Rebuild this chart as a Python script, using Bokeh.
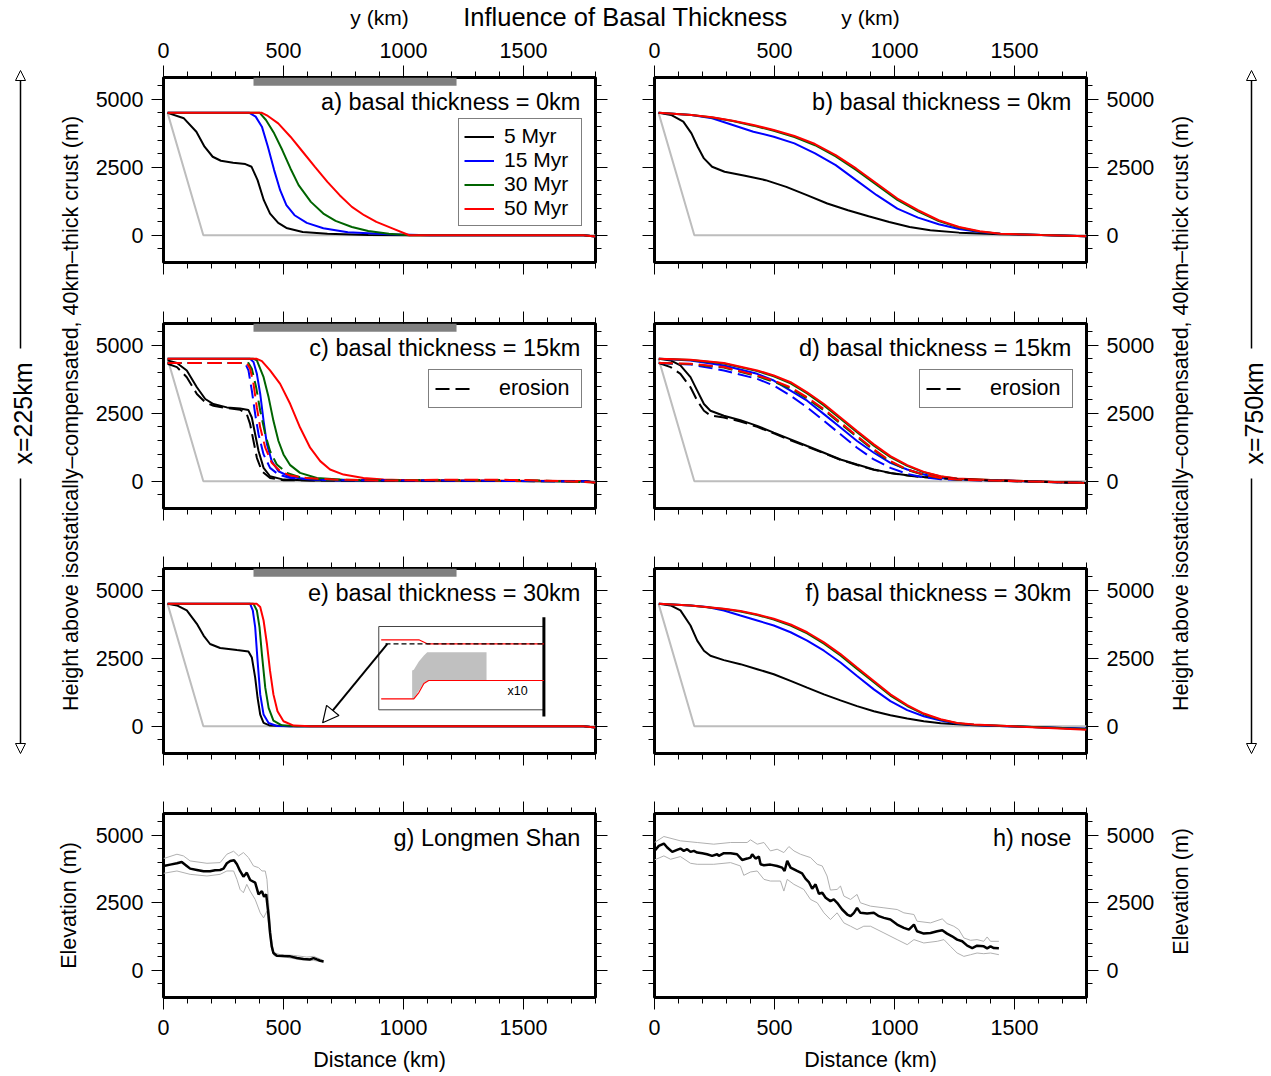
import math
from bokeh.plotting import figure
from bokeh.models import (Range1d, LinearAxis, FixedTicker, Legend, LegendItem,
                          Label, Arrow, NormalHead, Grid)
from bokeh.layouts import row, column
from bokeh.embed import file_html
from bokeh.resources import INLINE

FONT = "Liberation Sans"

# ---------------- axes / labels ----------------
x_ticks = [0, 500, 1000, 1500]
x_minor = list(range(0, 1801, 100))
y_ticks = [0, 2500, 5000]
y_minor = list(range(-500, 5501, 500))

ages = ["5 Myr", "15 Myr", "30 Myr", "50 Myr"]
colors = ["black", "#0000ff", "#006400", "#ff0000"]
panel_titles = ["a) basal thickness = 0km", "b) basal thickness = 0km",
                "c) basal thickness = 15km", "d) basal thickness = 15km",
                "e) basal thickness = 30km", "f) basal thickness = 30km",
                "g) Longmen Shan", "h) nose"]

# initial (gray) profile
init_x = [17, 166, 1800]
init_y = [4500, 0, 0]
# gray bar at top of panels a, c, e (km)
bar_x = [375, 1221]

# ---------------- panel a (basal 0 km, x=225km) ----------------
a5_x = [17, 85, 137, 171, 205, 239, 290, 341, 367, 392, 418, 444, 478, 512, 580, 683, 853, 1024, 1750, 1800]
a5_y = [4500, 4300, 3808, 3256, 2887, 2740, 2666, 2617, 2518, 2027, 1290, 799, 455, 270, 123, 61, 12, 0, 0, -40]
a15_x = [17, 358, 384, 410, 435, 461, 486, 512, 546, 597, 666, 768, 939, 1109, 1750, 1800]
a15_y = [4500, 4500, 4361, 3993, 3256, 2396, 1658, 1106, 737, 455, 258, 111, 37, 0, 0, -40]
a30_x = [17, 401, 427, 461, 495, 529, 563, 614, 666, 717, 785, 853, 939, 1024, 1750, 1800]
a30_y = [4500, 4500, 4238, 3747, 3133, 2457, 1843, 1229, 799, 528, 307, 160, 61, 0, 0, -40]
a50_x = [17, 410, 435, 478, 529, 580, 631, 683, 734, 785, 836, 887, 956, 1024, 1750, 1800]
a50_y = [4500, 4500, 4386, 4115, 3624, 3071, 2518, 1966, 1474, 1044, 737, 491, 246, 0, 0, -40]

# ---------------- panel b (basal 0 km, x=750km) ----------------
b5_x = [17, 69, 120, 154, 180, 206, 240, 292, 377, 463, 549, 635, 720, 806, 892, 978, 1063, 1149, 1269, 1441, 1612, 1800]
b5_y = [4500, 4423, 4177, 3747, 3256, 2826, 2518, 2334, 2187, 2027, 1781, 1474, 1167, 921, 700, 491, 307, 184, 98, 37, 12, -37]
b15_x = [17, 154, 240, 326, 412, 497, 583, 669, 755, 840, 926, 1012, 1098, 1184, 1269, 1355, 1441, 1612, 1800]
b15_y = [4500, 4423, 4300, 4054, 3808, 3624, 3378, 3010, 2580, 2027, 1474, 983, 651, 405, 233, 123, 61, 12, -37]
b30_x = [17, 154, 240, 326, 412, 497, 583, 669, 755, 840, 926, 1012, 1098, 1184, 1269, 1355, 1441, 1612, 1800]
b30_y = [4500, 4423, 4330, 4200, 4030, 3840, 3610, 3310, 2900, 2400, 1850, 1300, 880, 520, 285, 135, 55, 12, -37]
b50_x = [17, 154, 240, 326, 412, 497, 583, 669, 755, 840, 926, 1012, 1098, 1184, 1269, 1355, 1441, 1612, 1800]
b50_y = [4500, 4423, 4337, 4214, 4054, 3870, 3649, 3354, 2948, 2457, 1904, 1351, 921, 553, 307, 147, 61, 12, -37]

# ---------------- panel c (basal 15 km, x=225km) ----------------
c5_x = [17, 56, 97, 139, 174, 208, 264, 319, 354, 368, 382, 396, 417, 444, 500, 611, 1750, 1800]
c5_y = [4444, 4346, 4074, 3457, 3025, 2840, 2716, 2679, 2617, 2346, 1728, 1111, 494, 185, 62, 25, 0, -40]
c15_x = [17, 361, 375, 389, 403, 417, 431, 451, 479, 528, 611, 722, 1750, 1800]
c15_y = [4500, 4500, 4383, 3951, 3210, 2222, 1358, 741, 370, 160, 62, 25, 0, -40]
c30_x = [17, 375, 389, 417, 438, 458, 479, 500, 528, 569, 639, 778, 1750, 1800]
c30_y = [4500, 4500, 4444, 3827, 3086, 2222, 1481, 988, 593, 309, 123, 37, 0, -40]
c50_x = [17, 389, 410, 444, 486, 528, 569, 611, 653, 694, 750, 833, 917, 1056, 1333, 1750, 1800]
c50_y = [4500, 4500, 4420, 4074, 3580, 2840, 1975, 1235, 741, 432, 247, 123, 62, 25, 25, 10, -40]
# with erosion (dashed)
c5e_x = [17, 56, 97, 139, 174, 208, 264, 319, 347, 361, 375, 389, 410, 444, 500, 1750, 1800]
c5e_y = [4321, 4198, 3827, 3210, 2901, 2778, 2691, 2630, 2469, 2099, 1481, 864, 370, 123, 37, 0, -40]
c15e_x = [17, 340, 354, 368, 382, 396, 417, 444, 479, 528, 639, 1750, 1800]
c15e_y = [4346, 4346, 4074, 3333, 2469, 1728, 988, 494, 247, 123, 49, 0, -40]
c30e_x = [17, 354, 368, 386, 403, 424, 444, 472, 514, 569, 667, 900, 1200, 1500, 1800]
c30e_y = [4346, 4346, 4136, 3457, 2593, 1728, 1111, 617, 309, 148, 62, 40, 50, 45, -40]
c50e_x = [17, 347, 361, 375, 389, 403, 424, 451, 486, 528, 597, 708, 917, 1200, 1500, 1800]
c50e_y = [4346, 4346, 4136, 3580, 2716, 1975, 1235, 679, 370, 210, 123, 62, 25, 60, 50, -40]

# ---------------- panel d (basal 15 km, x=750km) ----------------
d5_x = [18, 67, 108, 150, 178, 206, 233, 289, 358, 428, 497, 567, 636, 706, 775, 844, 914, 983, 1053, 1122, 1261, 1400, 1800]
d5_y = [4500, 4444, 4259, 3827, 3333, 2840, 2593, 2407, 2247, 2037, 1790, 1543, 1296, 1049, 802, 617, 432, 309, 222, 160, 86, 37, -62]
d5e_x = [18, 67, 108, 150, 178, 206, 233, 289, 358, 428, 497, 567, 636, 706, 775, 844, 914, 983, 1053, 1122, 1261, 1400, 1800]
d5e_y = [4346, 4198, 3951, 3457, 2963, 2593, 2420, 2346, 2200, 2000, 1760, 1510, 1270, 1030, 790, 600, 420, 300, 215, 150, 80, 30, -62]
d15_x = [18, 150, 289, 428, 497, 567, 636, 706, 775, 844, 914, 983, 1053, 1122, 1192, 1331, 1469, 1800]
d15_y = [4500, 4444, 4259, 3951, 3704, 3333, 2963, 2469, 1975, 1481, 1049, 679, 432, 247, 123, 49, 25, -62]
d15e_x = [18, 150, 289, 428, 497, 567, 636, 706, 775, 844, 914, 983, 1053, 1122, 1192, 1331, 1469, 1800]
d15e_y = [4346, 4296, 4074, 3765, 3519, 3148, 2716, 2222, 1728, 1235, 802, 494, 272, 148, 74, 37, 15, -62]
d30_x = [18, 150, 289, 428, 497, 567, 636, 706, 775, 844, 914, 983, 1053, 1122, 1192, 1261, 1400, 1800]
d30_y = [4500, 4460, 4330, 4050, 3860, 3600, 3230, 2790, 2300, 1800, 1310, 890, 565, 330, 175, 95, 45, -62]
d30e_x = [18, 150, 289, 428, 497, 567, 636, 706, 775, 844, 914, 983, 1053, 1122, 1192, 1261, 1400, 1800]
d30e_y = [4346, 4310, 4180, 3860, 3660, 3410, 3040, 2610, 2120, 1630, 1140, 715, 415, 235, 115, 58, 28, -62]
d50_x = [18, 150, 289, 428, 497, 567, 636, 706, 775, 844, 914, 983, 1053, 1122, 1192, 1261, 1400, 1800]
d50_y = [4500, 4469, 4346, 4074, 3889, 3642, 3272, 2840, 2346, 1852, 1358, 926, 593, 346, 185, 99, 49, -62]
d50e_x = [18, 150, 289, 428, 497, 567, 636, 706, 775, 844, 914, 983, 1053, 1122, 1192, 1261, 1400, 1800]
d50e_y = [4346, 4321, 4198, 3889, 3700, 3457, 3086, 2654, 2160, 1667, 1173, 741, 432, 247, 123, 62, 30, -62]

# ---------------- panel e (basal 30 km, x=225km) ----------------
e5_x = [17, 56, 97, 139, 167, 194, 236, 306, 354, 368, 382, 392, 403, 417, 444, 528, 1750, 1800]
e5_y = [4500, 4444, 4259, 3765, 3333, 3025, 2877, 2802, 2753, 2531, 1790, 1049, 432, 123, 25, 0, 0, -40]
e15_x = [17, 361, 372, 382, 392, 403, 417, 438, 472, 528, 1750, 1800]
e15_y = [4500, 4500, 4259, 3642, 2407, 1173, 432, 123, 12, 0, 0, -40]
e30_x = [17, 375, 389, 400, 410, 424, 438, 458, 493, 556, 1750, 1800]
e30_y = [4500, 4500, 4259, 3642, 2654, 1420, 679, 210, 37, 0, 0, -40]
e50_x = [17, 389, 403, 417, 431, 444, 458, 475, 500, 542, 611, 1750, 1800]
e50_y = [4500, 4500, 4383, 3889, 3025, 2037, 1173, 556, 185, 25, 0, 0, -40]
# inset schematic in panel e (km, m)
inset_box_x = [1585, 897, 897, 1585]
inset_box_y = [3668, 3668, 606, 606]
inset_edge_y = [4010, 360]
inset_top_x = [907, 1064, 1099, 1585]
inset_top_y = [3179, 3179, 3032, 3032]
inset_ref_x = [925, 1585]
inset_ref_y = [3032, 3032]
inset_fill_x = [1036, 1036, 1043, 1064, 1085, 1099, 1346, 1346, 1105, 1085, 1064, 1043]
inset_fill_y = [1010, 2050, 2076, 2381, 2602, 2723, 2723, 1683, 1683, 1591, 1316, 1010]
inset_low_x = [907, 1043, 1064, 1085, 1105, 1585]
inset_low_y = [1010, 1010, 1242, 1573, 1683, 1683]
inset_arrow = [933, 3032, 663, 129]

# ---------------- panel f (basal 30 km, x=750km) ----------------
f5_x = [18, 67, 108, 150, 178, 206, 233, 289, 358, 428, 497, 567, 636, 706, 775, 844, 914, 983, 1053, 1122, 1192, 1331, 1469, 1800]
f5_y = [4500, 4444, 4259, 3704, 3148, 2778, 2593, 2432, 2284, 2099, 1914, 1667, 1420, 1173, 951, 741, 556, 407, 284, 185, 111, 37, 0, -86]
f15_x = [18, 150, 219, 289, 358, 428, 497, 567, 636, 706, 775, 844, 914, 983, 1053, 1122, 1192, 1261, 1331, 1469, 1800]
f15_y = [4500, 4444, 4383, 4259, 4074, 3889, 3704, 3457, 3148, 2778, 2346, 1852, 1358, 926, 593, 370, 210, 99, 49, 0, -86]
f30_x = [18, 150, 289, 358, 428, 497, 567, 636, 706, 775, 844, 914, 983, 1053, 1122, 1192, 1261, 1331, 1469, 1800]
f30_y = [4500, 4444, 4310, 4220, 4090, 3925, 3705, 3415, 3040, 2605, 2110, 1620, 1130, 745, 445, 245, 115, 58, 12, -110]
f50_x = [18, 150, 289, 358, 428, 497, 567, 636, 706, 775, 844, 914, 983, 1053, 1122, 1192, 1261, 1331, 1469, 1800]
f50_y = [4500, 4444, 4321, 4235, 4111, 3951, 3741, 3457, 3086, 2654, 2160, 1667, 1173, 778, 469, 259, 123, 62, 12, -123]

# ---------------- panel g: Longmen Shan ----------------
lms_x = [0, 28, 56, 76, 97, 111, 139, 167, 194, 215, 236, 250, 264, 278, 294, 306, 319, 333, 347, 361, 382, 396, 410, 419, 428, 438, 444, 451, 458, 472, 500, 528, 556, 583, 611, 625, 639, 653, 667]
lms_y = [3861, 3911, 3960, 4010, 3861, 3762, 3713, 3663, 3663, 3700, 3713, 3762, 3960, 4047, 4072, 3923, 3676, 3465, 3614, 3342, 3243, 2809, 2933, 2723, 2809, 2005, 1386, 891, 644, 545, 532, 520, 458, 421, 408, 458, 408, 359, 334]
lms_hi_x = [0, 56, 83, 111, 181, 236, 264, 292, 313, 333, 354, 375, 396, 410, 424, 431, 438, 447, 458, 486, 542, 597, 625, 653, 667]
lms_hi_y = [4134, 4295, 4233, 4047, 3960, 3985, 4295, 4406, 4233, 4356, 4171, 3861, 3800, 3676, 3676, 3366, 2500, 1386, 668, 582, 557, 495, 520, 421, 359]
lms_lo_x = [0, 56, 111, 181, 236, 264, 292, 306, 319, 333, 347, 361, 382, 403, 417, 431, 442, 451, 461, 514, 569, 625, 667]
lms_lo_y = [3589, 3676, 3552, 3490, 3552, 3676, 3676, 3366, 2995, 2871, 3181, 2933, 2624, 2129, 1943, 2191, 1386, 767, 545, 483, 396, 371, 309]

# ---------------- panel h: nose ----------------
nose_x = [0, 18, 39, 53, 74, 94, 108, 122, 136, 150, 164, 178, 199, 219, 240, 261, 268, 289, 317, 344, 365, 386, 400, 407, 421, 435, 442, 456, 483, 511, 532, 542, 553, 567, 594, 615, 629, 643, 657, 671, 685, 699, 713, 733, 747, 761, 782, 803, 817, 831, 844, 858, 886, 914, 935, 956, 983, 1011, 1039, 1060, 1081, 1094, 1122, 1150, 1178, 1199, 1219, 1240, 1261, 1282, 1303, 1324, 1344, 1372, 1386, 1400, 1414, 1435]
nose_y = [4418, 4604, 4691, 4542, 4381, 4455, 4505, 4418, 4480, 4381, 4418, 4356, 4332, 4295, 4233, 4295, 4233, 4332, 4332, 4295, 4084, 4134, 4171, 4295, 4134, 4208, 3923, 3886, 3911, 3861, 3800, 3676, 4047, 3800, 3676, 3589, 3391, 3267, 3020, 3181, 2834, 2871, 2686, 2562, 2624, 2500, 2252, 2067, 2005, 2129, 2314, 2129, 2104, 2129, 2005, 1943, 1881, 1696, 1572, 1510, 1696, 1448, 1361, 1386, 1448, 1485, 1361, 1262, 1139, 1077, 916, 829, 916, 891, 817, 891, 829, 817]
nose_hi_x = [0, 39, 108, 178, 247, 317, 386, 400, 428, 456, 483, 511, 539, 560, 581, 608, 650, 678, 699, 719, 733, 761, 775, 789, 817, 844, 858, 900, 956, 1011, 1039, 1081, 1094, 1150, 1199, 1219, 1247, 1268, 1289, 1317, 1344, 1372, 1386, 1400, 1435]
nose_hi_y = [4728, 4950, 4790, 4728, 4666, 4728, 4728, 4827, 4666, 4728, 4418, 4480, 4356, 4579, 4418, 4295, 4171, 3923, 3861, 3490, 2970, 2995, 3119, 2748, 2624, 2809, 2500, 2376, 2314, 2252, 2129, 2067, 1819, 1757, 1906, 1733, 1634, 1510, 1200, 1114, 1139, 1077, 1238, 1077, 1077]
nose_lo_x = [0, 39, 67, 108, 150, 178, 247, 317, 358, 372, 400, 428, 456, 483, 525, 539, 553, 581, 622, 650, 678, 706, 733, 761, 789, 817, 844, 872, 900, 956, 1011, 1053, 1081, 1122, 1178, 1206, 1233, 1261, 1289, 1317, 1344, 1372, 1400, 1435]
nose_lo_y = [4084, 4233, 4109, 4208, 3960, 3923, 3923, 3985, 3861, 3515, 3639, 3676, 3366, 3304, 3304, 2933, 3366, 3181, 2995, 2624, 2500, 2129, 1881, 2129, 1757, 1634, 1510, 1634, 1634, 1386, 1139, 953, 1139, 1015, 1077, 1139, 891, 644, 520, 582, 644, 619, 644, 582]


# ---------------- helpers ----------------
def no_grid(p):
    p.center = [r for r in p.center if not isinstance(r, Grid)]


def style_axis(ax, show, standoff=6):
    ax.axis_line_color = None
    ax.major_tick_in = 0
    ax.major_tick_out = 12
    ax.minor_tick_in = 0
    ax.minor_tick_out = 6
    ax.major_tick_line_color = "black"
    ax.minor_tick_line_color = "black"
    ax.major_tick_line_width = 1
    ax.minor_tick_line_width = 1
    ax.major_label_text_font = FONT
    if show:
        ax.major_label_text_font_size = "21.5px"
        ax.major_label_text_color = "black"
        ax.major_label_standoff = standoff
    else:
        ax.major_label_text_font_size = "0px"
        ax.major_label_text_color = None
        ax.major_label_standoff = 0


def make_panel(width, height, bl, br, bt, bb, top=False, bottom=False, left=False, right=False):
    p = figure(width=width, height=height, x_range=Range1d(0, 1800), y_range=Range1d(-1000, 5800),
               x_axis_location=None, y_axis_location=None, toolbar_location=None,
               output_backend="svg", min_border_left=bl, min_border_right=br,
               min_border_top=bt, min_border_bottom=bb)
    no_grid(p)
    p.outline_line_color = "black"
    p.outline_line_width = 3
    p.background_fill_color = "white"
    p.border_fill_color = "white"
    axes = {}
    for side, show in (("above", top), ("below", bottom)):
        ax = LinearAxis(ticker=FixedTicker(ticks=x_ticks, minor_ticks=x_minor))
        style_axis(ax, show, 8 if side == "above" else 10)
        p.add_layout(ax, side)
        axes[side] = ax
    for side, show in (("left", left), ("right", right)):
        ax = LinearAxis(ticker=FixedTicker(ticks=y_ticks, minor_ticks=y_minor))
        style_axis(ax, show, 8)
        p.add_layout(ax, side)
        axes[side] = ax
    return p, axes


def add_title(p, text, y=4900):
    p.add_layout(Label(x=1737, y=y, text=text, text_align="right", text_baseline="middle",
                       text_font=FONT, text_font_size="23.5px", text_color="black"))


def draw_model(p, solids, dashes=None, bar=False):
    if bar:
        p.quad(left=bar_x[0], right=bar_x[1], bottom=5500, top=5800, fill_color="#808080",
               line_color=None)
    p.line(init_x, init_y, line_color="#bdbdbd", line_width=2)
    rs = []
    for (x, y), c in zip(solids, colors):
        rs.append(p.line(x, y, line_color=c, line_width=2))
    rd = []
    if dashes:
        for (x, y), c in zip(dashes, colors):
            rd.append(p.line(x, y, line_color=c, line_width=2, line_dash="14 6"))
    return rs, rd


def erosion_legend(p, renderer):
    leg = Legend(items=[LegendItem(label="erosion", renderers=[renderer])], location=(265, 100),
                 padding=6, spacing=0, margin=0, glyph_width=40, glyph_height=21,
                 label_height=21, label_standoff=24, label_width=76,
                 border_line_color="black", border_line_width=1.5,
                 background_fill_color="white", background_fill_alpha=1.0,
                 label_text_font=FONT, label_text_font_size="21.5px",
                 label_text_color="black")
    p.add_layout(leg)


def strip(width, height):
    p = figure(width=width, height=height, x_range=Range1d(0, width), y_range=Range1d(0, height),
               x_axis_location=None, y_axis_location=None, toolbar_location=None,
               output_backend="svg", min_border=0)
    no_grid(p)
    p.outline_line_color = None
    p.background_fill_color = "white"
    p.border_fill_color = "white"
    return p


def txt(p, x, y, text, size, angle=0.0, align="center", baseline="middle"):
    p.add_layout(Label(x=x, y=y, text=text, angle=angle, text_align=align,
                       text_baseline=baseline, text_font=FONT, text_font_size=size,
                       text_color="black"))


def v_arrow(p, x, y0, y1):
    p.add_layout(Arrow(end=NormalHead(size=10, fill_color="white", line_color="black",
                                      line_width=1), x_start=x, y_start=y0, x_end=x, y_end=y1,
                       line_width=1.5, line_color="black"))


# ---------------- panels ----------------
HEADER_H = 31
LW, RW = 534, 536
pa, _ = make_panel(LW, 261, 73, 29, 46, 30, top=True, left=True)
pb, _ = make_panel(RW, 261, 30, 74, 46, 30, top=True, right=True)
pc, _ = make_panel(LW, 245, 73, 29, 31, 29, left=True)
pd, _ = make_panel(RW, 245, 30, 74, 31, 29, right=True)
pe, _ = make_panel(LW, 245, 73, 29, 31, 29, left=True)
pf, _ = make_panel(RW, 245, 30, 74, 31, 29, right=True)
pg, g_axes = make_panel(624, 292, 163, 29, 31, 76, bottom=True, left=True)
ph, h_axes = make_panel(RW, 292, 30, 74, 31, 76, bottom=True, right=True)

for ax in (g_axes["below"], h_axes["below"]):
    ax.axis_label = "Distance (km)"
    ax.axis_label_standoff = 10
    ax.axis_label_text_font = FONT
    ax.axis_label_text_font_size = "21.5px"
    ax.axis_label_text_font_style = "normal"
    ax.axis_label_text_color = "black"
g_axes["left"].axis_label = "Elevation (m)"
g_axes["left"].axis_label_standoff = 12
g_axes["left"].axis_label_text_font = FONT
g_axes["left"].axis_label_text_font_size = "21.5px"
g_axes["left"].axis_label_text_font_style = "normal"
g_axes["left"].axis_label_text_color = "black"

# a
ra, _ = draw_model(pa, [(a5_x, a5_y), (a15_x, a15_y), (a30_x, a30_y), (a50_x, a50_y)], bar=True)
add_title(pa, panel_titles[0])
leg = Legend(items=[LegendItem(label=lab, renderers=[r]) for lab, r in zip(ages, ra)],
             location=(295, 36), padding=5, spacing=0, margin=0, glyph_width=30,
             glyph_height=23, label_height=23, label_standoff=10, label_width=72,
             border_line_color="black", border_line_width=1.5,
             background_fill_color="white", background_fill_alpha=1.0,
             label_text_font=FONT, label_text_font_size="21px", label_text_color="black")
pa.add_layout(leg)

# b
draw_model(pb, [(b5_x, b5_y), (b15_x, b15_y), (b30_x, b30_y), (b50_x, b50_y)])
add_title(pb, panel_titles[1])

# c
_, rdc = draw_model(pc, [(c5_x, c5_y), (c15_x, c15_y), (c30_x, c30_y), (c50_x, c50_y)],
                    [(c5e_x, c5e_y), (c15e_x, c15e_y), (c30e_x, c30e_y), (c50e_x, c50e_y)],
                    bar=True)
add_title(pc, panel_titles[2])
erosion_legend(pc, rdc[0])

# d
_, rdd = draw_model(pd, [(d5_x, d5_y), (d15_x, d15_y), (d30_x, d30_y), (d50_x, d50_y)],
                    [(d5e_x, d5e_y), (d15e_x, d15e_y), (d30e_x, d30e_y), (d50e_x, d50e_y)])
add_title(pd, panel_titles[3])
erosion_legend(pd, rdd[0])

# e
draw_model(pe, [(e5_x, e5_y), (e15_x, e15_y), (e30_x, e30_y), (e50_x, e50_y)], bar=True)
add_title(pe, panel_titles[4])
pe.line(inset_box_x, inset_box_y, line_color="#444444", line_width=1)
pe.line([inset_box_x[0], inset_box_x[0]], inset_edge_y, line_color="black", line_width=3)
pe.patch(inset_fill_x, inset_fill_y, fill_color="#c0c0c0", line_color=None)
pe.line(inset_top_x, inset_top_y, line_color="#ff0000", line_width=1.2)
pe.line(inset_ref_x, inset_ref_y, line_color="black", line_width=1.2, line_dash="5 3")
pe.line(inset_low_x, inset_low_y, line_color="#ff0000", line_width=1.2)
pe.add_layout(Label(x=1475, y=1279, text="x10", text_align="center", text_baseline="middle",
                    text_font=FONT, text_font_size="12.5px", text_color="black"))
pe.add_layout(Arrow(end=NormalHead(size=16, fill_color="white", line_color="black",
                                   line_width=1.2),
                    x_start=inset_arrow[0], y_start=inset_arrow[1],
                    x_end=inset_arrow[2], y_end=inset_arrow[3],
                    line_width=2, line_color="black"))

# f
draw_model(pf, [(f5_x, f5_y), (f15_x, f15_y), (f30_x, f30_y), (f50_x, f50_y)])
add_title(pf, panel_titles[5])

# g
pg.line(lms_hi_x, lms_hi_y, line_color="#b0b0b0", line_width=1)
pg.line(lms_lo_x, lms_lo_y, line_color="#b0b0b0", line_width=1)
pg.line(lms_x, lms_y, line_color="black", line_width=2.5)
add_title(pg, panel_titles[6])

# h
ph.line(nose_hi_x, nose_hi_y, line_color="#b0b0b0", line_width=1)
ph.line(nose_lo_x, nose_lo_y, line_color="#b0b0b0", line_width=1)
ph.line(nose_x, nose_y, line_color="black", line_width=2.5)
add_title(ph, panel_titles[7])

# ---------------- header & side strips ----------------
TOTAL_W = 1270
header = strip(TOTAL_W, HEADER_H)
txt(header, 625, HEADER_H - 16.0, "Influence of Basal Thickness", "25.5px")
txt(header, 379, HEADER_H - 16.7, "y (km)", "21px")
txt(header, 870, HEADER_H - 16.7, "y (km)", "21px")

ls = strip(90, 751)
txt(ls, 70, 369, "Height above isostatically\u2013compensated, 40km\u2013thick crust (m)", "21.5px",
    angle=math.pi / 2)
txt(ls, 22, 369, "x=225km", "25px", angle=math.pi / 2)
v_arrow(ls, 20, 434, 712)
v_arrow(ls, 20, 304, 29)

rs = strip(110, 751)
txt(rs, 20, 369, "Height above isostatically\u2013compensated, 40km\u2013thick crust (m)", "21.5px",
    angle=math.pi / 2)
txt(rs, 93, 369, "x=750km", "25px", angle=math.pi / 2)
v_arrow(rs, 91, 434, 712)
v_arrow(rs, 91, 304, 29)

rs2 = strip(110, 292)
txt(rs2, 20, 168.5, "Elevation (m)", "21.5px", angle=math.pi / 2)

top_block = row(ls, column(pa, pc, pe), column(pb, pd, pf), rs)
bottom_block = row(pg, ph, rs2)
layout = column(header, top_block, bottom_block)

open("out.html", "w").write(file_html(layout, INLINE))
